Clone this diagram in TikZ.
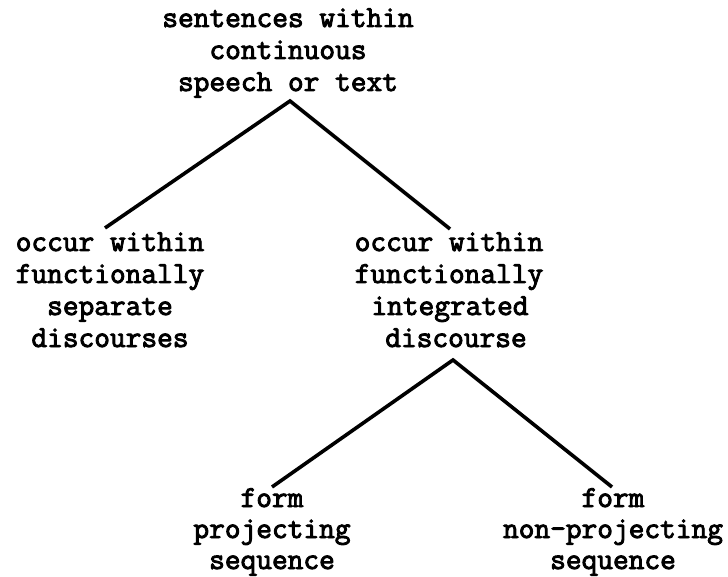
\documentclass[tikz,border=0pt]{standalone}
\usepackage{fontspec}
\newfontfamily\typew{Latin Modern Mono}[FakeBold=3]
\tikzset{
  lab/.style={anchor=base, inner sep=0pt, font=\typew\fontsize{30.5}{32}\selectfont},
  branch/.style={line width=3.6pt, line cap=butt, line join=miter}
}
\begin{document}
\begin{tikzpicture}[x=1pt,y=-1pt]
\useasboundingbox (0,0) rectangle (728,577);
% top
\node[lab] (t1) at (288,27) {sentences within};
\node[lab] (t2) at (288,59) {continuous};
\node[lab] (t3) at (288,91) {speech or text};
% left
\node[lab] (l1) at (110,251) {occur within};
\node[lab] (l2) at (110,283) {functionally};
\node[lab] (l3) at (110,315) {separate};
\node[lab] (l4) at (110,347) {discourses};
% right
\node[lab] (r1) at (449,251) {occur within};
\node[lab] (r2) at (449,283) {functionally};
\node[lab] (r3) at (450,315) {integrated};
\node[lab] (r4) at (456,347) {discourse};
% bottom left
\node[lab] (bl1) at (272,507) {form};
\node[lab] (bl2) at (272,538) {projecting};
\node[lab] (bl3) at (272,569) {sequence};
% bottom right
\node[lab] (br1) at (613,507) {form};
\node[lab] (br2) at (613,538) {non-projecting};
\node[lab] (br3) at (613,569) {sequence};
% branch points
\coordinate (topapex) at (290,101);
\coordinate (lend) at (105,228);
\coordinate (rend) at (450,229);
\coordinate (midapex) at (453,360);
\coordinate (blend) at (272,487);
\coordinate (brend) at (612,487);
\draw[branch] (lend) -- (topapex) -- (rend);
\draw[branch] (blend) -- (midapex) -- (brend);
\end{tikzpicture}
\end{document}
